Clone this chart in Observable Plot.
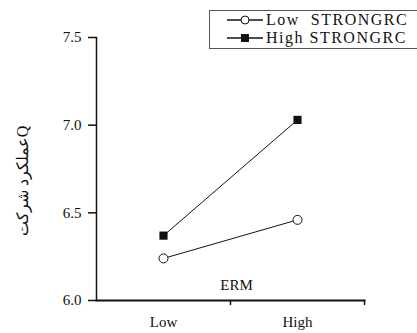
<!DOCTYPE html>
<html>
<head>
<meta charset="utf-8">
<script src="https://cdn.jsdelivr.net/npm/d3@7"></script>
<script src="https://cdn.jsdelivr.net/npm/@observablehq/plot@0.6"></script>
<style>
  html, body { margin: 0; padding: 0; background: #fff; overflow: hidden; }
  #wrap { position: relative; width: 417px; height: 333px; }
  #legend { position: absolute; left: 209px; top: 10px; width: 230px; height: 37px;
    border: 1.5px solid #555; font-family: "Liberation Serif", serif; font-size: 16px; letter-spacing: 1.5px; color: #111; }
  #legend .row { position: absolute; left: 17px; display: flex; align-items: center; white-space: pre; }
  #legend svg { display: block; margin-right: 2px; }
  svg text { font-family: "Liberation Serif", serif; }
  svg text.ylab { font-family: "DejaVu Sans", sans-serif; }
</style>
</head>
<body>
<div id="wrap">
  <div id="chart"></div>
  <div id="legend"></div>
</div>
<script>
const categories = ["Low", "High"];
const seriesNames = ["Low  STRONGRC", "High STRONGRC"];
const lowStrongValues = [6.24, 6.46];
const highStrongValues = [6.37, 7.03];
const yTicks = [6.0, 6.5, 7.0, 7.5];
const xTitle = "ERM";
const yTitle = "عملکرد شرکتQ";

const data = [
  ...categories.map((c, i) => ({ erm: c, value: lowStrongValues[i], series: "low" })),
  ...categories.map((c, i) => ({ erm: c, value: highStrongValues[i], series: "high" }))
];

const W = 417, H = 333, mL = 96, mR = 53, mT = 37, mB = 33;
const band = (W - mL - mR) / categories.length;

const chart = Plot.plot({
  width: W, height: H,
  marginLeft: mL, marginRight: mR, marginTop: mT, marginBottom: mB,
  style: { fontFamily: "'Liberation Serif', serif", fontSize: "15px", color: "#111", background: "transparent" },
  x: { type: "band", domain: categories, paddingInner: 0, paddingOuter: 0 },
  y: { domain: [6, 7.5] },
  marks: [
    Plot.axisY({ ticks: yTicks, tickFormat: d3.format(".1f"), tickSize: 8, tickPadding: 7, label: null, strokeWidth: 1.5, fontSize: 15 }),
    Plot.axisX({ tickSize: 0, tickPadding: 16, label: null, fontSize: 15 }),
    Plot.axisX({ text: null, tickSize: 5, dx: band / 2, label: null, strokeWidth: 1.5 }),
    Plot.frame({ anchor: "left", strokeWidth: 1.5 }),
    Plot.frame({ anchor: "bottom", strokeWidth: 2 }),
    Plot.text([xTitle], { frameAnchor: "bottom", dy: -11, dx: 6, fontSize: 15 }),
    Plot.text([yTitle], { frameAnchor: "left", textAnchor: "middle", rotate: -90, dx: -74, dy: 12, fontSize: 16, className: "ylab" }),
    Plot.line(data, { x: "erm", y: "value", z: "series", stroke: "#111", strokeWidth: 1 }),
    Plot.dot(data.filter(d => d.series === "low"), { x: "erm", y: "value", symbol: "circle", r: 4.5, fill: "#fff", stroke: "#111", strokeWidth: 1 }),
    Plot.dot(data.filter(d => d.series === "high"), { x: "erm", y: "value", symbol: "square", r: 4.6, fill: "#111", stroke: "none" })
  ]
});
document.getElementById("chart").appendChild(chart);

const legend = document.getElementById("legend");
const symbols = [
  '<circle cx="18" cy="5" r="4" fill="#fff" stroke="#111" stroke-width="1"/>',
  '<rect x="14" y="1" width="8" height="8" fill="#111"/>'
];
seriesNames.forEach((name, i) => {
  const row = document.createElement("div");
  row.className = "row";
  row.style.top = (i === 0 ? 0 : 18) + "px";
  row.innerHTML = `<svg width="37" height="10"><line x1="0" x2="36" y1="5" y2="5" stroke="#111" stroke-width="1.5"/>${symbols[i]}</svg><span>${name}</span>`;
  legend.appendChild(row);
});
</script>
</body>
</html>
